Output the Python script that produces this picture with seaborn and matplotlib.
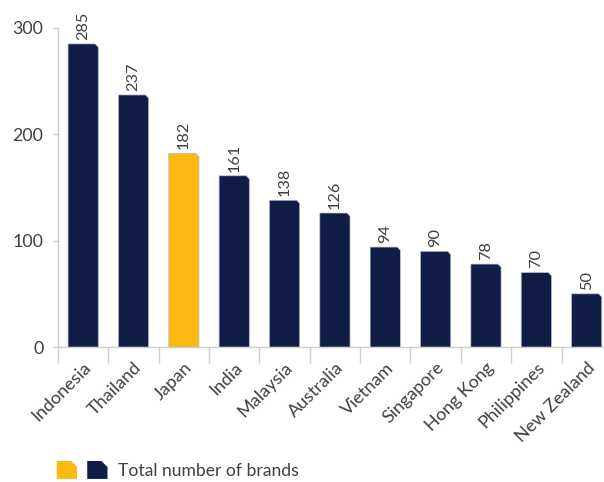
import numpy as np
import pandas as pd
import seaborn as sns
import matplotlib
matplotlib.use("Agg")
from matplotlib import pyplot as plt
from matplotlib.patches import Polygon
from matplotlib.legend_handler import HandlerBase
from matplotlib.ticker import FixedLocator

countries = ["Indonesia", "Thailand", "Japan", "India", "Malaysia", "Australia",
             "Vietnam", "Singapore", "Hong Kong", "Philippines", "New Zealand"]
brands = [285, 237, 182, 161, 138, 126, 94, 90, 78, 70, 50]
highlight = "Japan"
y_ticks = [0, 100, 200, 300]

NAVY = "#111d47"
GOLD = "#fdb913"
TEXT = "#404040"
GRID = "#cfcfcf"

sns.set_style("white")
plt.rcParams["font.family"] = ["Lato", "DejaVu Sans"]

df = pd.DataFrame({"country": countries, "brands": brands})
palette = {c: (GOLD if c == highlight else NAVY) for c in countries}

fig = plt.figure(figsize=(6.04, 4.82), dpi=100)
ax = fig.add_axes([0.096, 0.280, 0.917, 0.662])

sns.barplot(data=df, x="country", y="brands", hue="country", palette=palette,
            width=0.6, legend=False, ax=ax, saturation=1)

ax.set_ylim(0, 300)
ax.set_xlim(-0.5, 10.5)

# replace each bar by a bevelled shape (top right corner cut)
bx, by = 0.06, 3.0
for p in list(ax.patches):
    x0, w, h = p.get_x(), p.get_width(), p.get_height()
    col = p.get_facecolor()
    p.set_visible(False)
    pts = [(x0, 0), (x0, h), (x0 + w - bx, h), (x0 + w, h - by), (x0 + w, 0)]
    ax.add_patch(Polygon(pts, closed=True, facecolor=col, edgecolor="#b8bccb",
                         linewidth=0.5, zorder=3))

# value labels
for i, v in enumerate(brands):
    ax.text(i, v + 4, str(v), rotation=90, ha="center", va="bottom",
            fontsize=11.8, color=TEXT)

ax.set_yticks(y_ticks)
ax.tick_params(axis="y", length=3.6, width=1, color=GRID, labelsize=12.8,
               labelcolor=TEXT, pad=7, left=True)
ax.set_xticks(range(len(countries)))
ax.set_xticklabels(countries, rotation=45, ha="right", rotation_mode="anchor",
                   fontsize=13, color=TEXT)
ax.tick_params(axis="x", which="major", length=0, pad=9)
ax.xaxis.set_minor_locator(FixedLocator(np.arange(-0.5, len(countries), 1.0)))
ax.tick_params(axis="x", which="minor", length=11.5, width=1, color=GRID, bottom=True)

ax.set_xlabel("")
ax.set_ylabel("")
for s in ["top", "right"]:
    ax.spines[s].set_visible(False)
for s in ["left", "bottom"]:
    ax.spines[s].set_color(GRID)
    ax.spines[s].set_linewidth(1)


class BevelPair(HandlerBase):
    def create_artists(self, legend, orig_handle, xdescent, ydescent, width,
                       height, fontsize, trans):
        w = width * 0.4
        gap = width * 0.2
        cut = w * 0.3
        arts = []
        for k, c in enumerate([GOLD, NAVY]):
            x0 = -xdescent + k * (w + gap)
            y0 = -ydescent
            pts = [(x0, y0), (x0, y0 + height), (x0 + w - cut, y0 + height),
                   (x0 + w, y0 + height - cut), (x0 + w, y0)]
            arts.append(Polygon(pts, closed=True, facecolor=c, edgecolor="none",
                                transform=trans))
        return arts


fig.legend([object()], ["Total number of brands"], handler_map={object: BevelPair()},
           loc="center left", bbox_to_anchor=(0.094, 0.025), frameon=False,
           fontsize=12.6, labelcolor=TEXT, handlelength=2.9, handleheight=1.2,
           handletextpad=0.6, borderaxespad=0, borderpad=0)

fig.savefig("out.png", dpi=100)
